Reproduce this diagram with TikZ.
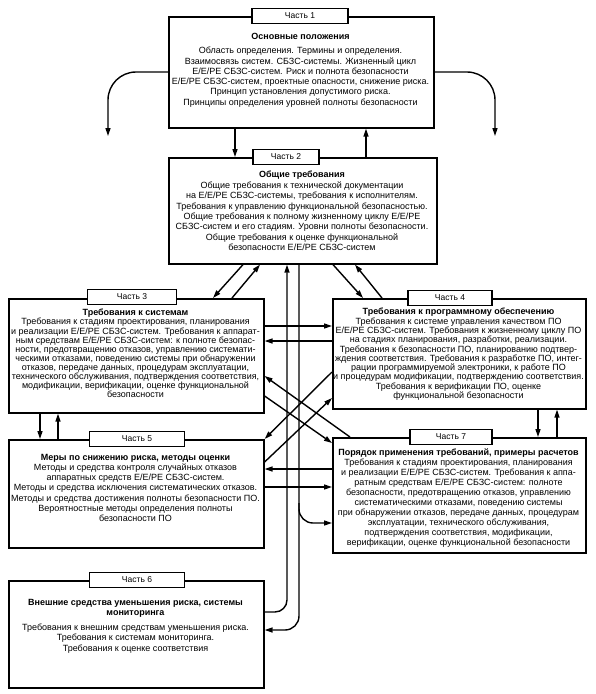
\documentclass[tikz,border=0pt]{standalone}
\usepackage{fontspec}
\setmainfont{Liberation Sans}
\usetikzlibrary{arrows.meta}
\begin{document}
\begin{tikzpicture}[x=1pt,y=-1pt,
  box/.style={draw, line width=1.6pt, fill=white, anchor=north west, inner sep=0},
  lbl/.style={draw, line width=1.4pt, fill=white, minimum height=15pt, inner sep=0, font=\fontsize{8.5}{9}\selectfont},
  txt/.style={align=center, inner sep=0, anchor=north},
  arr/.style={line width=1.4pt, -{Triangle[length=8pt,width=5pt]}},
  ln/.style={line width=1.4pt}]
\fill[white] (0,0) rectangle (595,694);
\useasboundingbox (0,0) rectangle (595,694);
% boxes
\node[box, minimum width=265pt, minimum height=111pt] (p1) at (168,16) {};
\node[box, minimum width=268pt, minimum height=106pt] (p2) at (168,157) {};
\node[box, minimum width=255pt, minimum height=114pt] (p3) at (8,298) {};
\node[box, minimum width=253pt, minimum height=110pt] (p4) at (332,298) {};
\node[box, minimum width=255pt, minimum height=108pt] (p5) at (8,439) {};
\node[box, minimum width=253pt, minimum height=115pt] (p7) at (332,437) {};
\node[box, minimum width=255pt, minimum height=107pt] (p6) at (8,580) {};
% connectors
\draw[arr] (235,0 |- p1.south) -- (235,0 |- p2.north);
\draw[arr] (366,0 |- p2.north) -- (366,0 |- p1.south);
\coordinate (e1) at (108,136);
\coordinate (e2) at (495,136);
\draw[arr, rounded corners=28pt] (p1.west |- 0,72) -| (e1);
\draw[arr, rounded corners=28pt] (p1.east |- 0,72) -| (e2);
% p2 - p3
\draw[arr] (243,0 |- p2.south) -- (213,0 |- p3.north);
\draw[arr] (232,0 |- p3.north) -- (260,0 |- p2.south);
% p2 - p4
\draw[arr] (333,0 |- p2.south) -- (363,0 |- p4.north);
\draw[arr] (382,0 |- p4.north) -- (355,0 |- p2.south);
% p2 - p6 verticals
\draw[arr, rounded corners=12pt] (p6.east |- 0,612) -| (287,0 |- p2.south);
\draw[arr, rounded corners=14pt] (299,0 |- p2.south) |- (p6.east |- 0,630);
\coordinate (br) at (299,503);
\draw[arr, rounded corners=14pt] (br) |- (p7.west |- 0,523);
% p3 - p4
\draw[arr] (p3.east |- 0,326) -- (p4.west |- 0,326);
\draw[arr] (p4.west |- 0,341) -- (p3.east |- 0,341);
% p5 - p7
\draw[arr] (p7.west |- 0,469) -- (p5.east |- 0,469);
\draw[arr] (p5.east |- 0,487) -- (p7.west |- 0,487);
% p3 - p5
\draw[arr] (40,0 |- p3.south) -- (40,0 |- p5.north);
\draw[arr] (58,0 |- p5.north) -- (58,0 |- p3.south);
% p4 - p7
\draw[arr] (538,0 |- p4.south) -- (538,0 |- p7.north);
\draw[arr] (557,0 |- p7.north) -- (557,0 |- p4.south);
% cross diagonals
\draw[arr] (350,0 |- p7.north) -- (p3.east |- 0,376);
\draw[arr] (p3.east |- 0,396) -- (p7.west |- 0,443);
\draw[arr] (p4.west |- 0,372) -- (p5.north east);
\draw[arr] (p5.east |- 0,462) -- (p4.west |- 0,398);
% labels
\node[lbl, minimum width=96pt] (l1) at (300,16) {Часть 1};
\node[lbl, minimum width=66pt] (l2) at (286,157) {Часть 2};
\node[lbl, minimum width=89pt] (l3) at (132,297) {Часть 3};
\node[lbl, minimum width=84pt] (l4) at (450,298) {Часть 4};
\node[lbl, minimum width=95pt] (l5) at (137,439) {Часть 5};
\node[lbl, minimum width=82pt] (l7) at (451,437) {Часть 7};
\node[lbl, minimum width=95pt] (l6) at (137,580) {Часть 6};
% texts
\node[txt, font=\fontsize{9}{10.3}\selectfont] (t1) at (300.5,33) {\textbf{Основные положения}\\[4pt]
Область определения. Термины и определения.\\
Взаимосвязь систем. СБЗС-системы. Жизненный цикл\\
Е/Е/РЕ СБЗС-систем. Риск и полнота безопасности\\
Е/Е/РЕ СБЗС-систем, проектные опасности, снижение риска.\\
Принцип установления допустимого риска.\\
Принципы определения уровней полноты безопасности};
\node[txt, font=\fontsize{9}{10.4}\selectfont] (t2) at (302,171) {\textbf{Общие требования}\\
Общие требования к технической документации\\
на Е/Е/РЕ СБЗС-системы, требования к исполнителям.\\
Требования к управлению функциональной безопасностью.\\
Общие требования к полному жизненному циклу Е/Е/РЕ\\
СБЗС-систем и его стадиям. Уровни полноты безопасности.\\
Общие требования к оценке функциональной\\
безопасности Е/Е/РЕ СБЗС-систем};
\node[txt, font=\fontsize{9}{9.1}\selectfont] (t3) at (135.5,309) {\textbf{Требования к системам}\\
Требования к стадиям проектирования, планирования\\
и реализации Е/Е/РЕ СБЗС-систем. Требования к аппарат-\\
ным средствам Е/Е/РЕ СБЗС-систем: к полноте безопас-\\
ности, предотвращению отказов, управлению системати-\\
ческими отказами, поведению системы при обнаружении\\
отказов, передаче данных, процедурам эксплуатации,\\
технического обслуживания, подтверждения соответствия,\\
модификации, верификации, оценке функциональной\\
безопасности};
\node[txt, font=\fontsize{9}{9.3}\selectfont] (t4) at (458.5,308) {\textbf{Требования к программному обеспечению}\\
Требования к системе управления качеством ПО\\
Е/Е/РЕ СБЗС-систем. Требования к жизненному циклу ПО\\
на стадиях планирования, разработки, реализации.\\
Требования к безопасности ПО, планированию подтвер-\\
ждения соответствия. Требования к разработке ПО, интег-\\
рации программируемой электроники, к работе ПО\\
и процедурам модификации, подтверждению соответствия.\\
Требования к верификации ПО, оценке\\
функциональной безопасности};
\node[txt, font=\fontsize{9}{10.2}\selectfont] (t5) at (135.5,454) {\textbf{Меры по снижению риска, методы оценки}\\
Методы и средства контроля случайных отказов\\
аппаратных средств Е/Е/РЕ СБЗС-систем.\\
Методы и средства исключения систематических отказов.\\
Методы и средства достижения полноты безопасности ПО.\\
Вероятностные методы определения полноты\\
безопасности ПО};
\node[txt, font=\fontsize{9}{10}\selectfont] (t7) at (458.5,449) {\textbf{Порядок применения требований, примеры расчетов}\\
Требования к стадиям проектирования, планирования\\
и реализации Е/Е/РЕ СБЗС-систем. Требования к аппа-\\
ратным средствам Е/Е/РЕ СБЗС-систем: полноте\\
безопасности, предотвращению отказов, управлению\\
систематическими отказами, поведению системы\\
при обнаружении отказов, передаче данных, процедурам\\
эксплуатации, технического обслуживания,\\
подтверждения соответствия, модификации,\\
верификации, оценке функциональной безопасности};
\node[txt, font=\fontsize{9}{10.5}\selectfont] (t6) at (135.5,599) {\textbf{Внешние средства уменьшения риска, системы}\\
\textbf{мониторинга}\\[4pt]
Требования к внешним средствам уменьшения риска.\\
Требования к системам мониторинга.\\
Требования к оценке соответствия};
\end{tikzpicture}
\end{document}
